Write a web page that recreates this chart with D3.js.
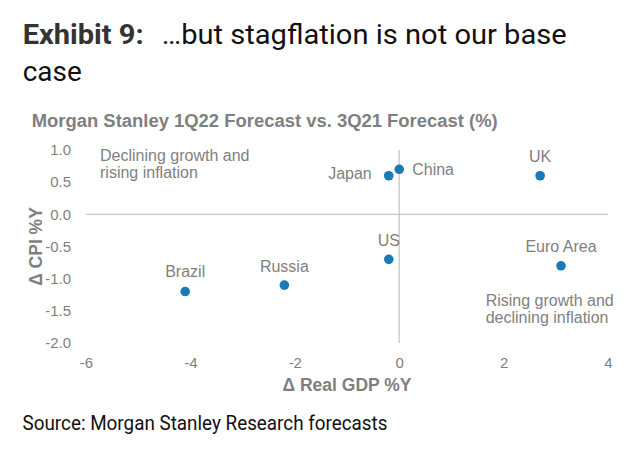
<!DOCTYPE html>
<html><head><meta charset="utf-8">
<script src="https://cdn.jsdelivr.net/npm/d3@7"></script>
<style>body{margin:0;background:#fff}svg{display:block}</style>
</head><body>
<script>
const countries = ["Japan","China","UK","US","Euro Area","Brazil","Russia"];
const gdpDelta = [-0.2, 0.0, 2.7, -0.2, 3.1, -4.1, -2.2];
const cpiDelta = [0.6, 0.7, 0.6, -0.7, -0.8, -1.2, -1.1];
const xTicks = [-6,-4,-2,0,2,4];
const yTicks = [1.0,0.5,0.0,-0.5,-1.0,-1.5,-2.0];

const W=640,H=454;
const svg=d3.select("body").append("svg").attr("width",W).attr("height",H);
const x=d3.scaleLinear().domain([-6,4]).range([86,608]);
const y=d3.scaleLinear().domain([-2,1]).range([343,150]);
const sans="Liberation Sans, Arial, sans-serif";
const grey="#7f7f7f";

// Title
svg.append("text").attr("x",22.7).attr("y",43.5).attr("font-family","Roboto").attr("font-size",28)
  .attr("font-weight","bold").attr("fill","#333").attr("textLength",121).attr("lengthAdjust","spacingAndGlyphs").text("Exhibit 9:");
svg.append("text").attr("x",161.7).attr("y",43.5).attr("font-family","Roboto").attr("font-size",28)
  .attr("fill","#111").attr("textLength",405).attr("lengthAdjust","spacingAndGlyphs").text("…but stagflation is not our base");
svg.append("text").attr("x",22.7).attr("y",81).attr("font-family","Roboto").attr("font-size",28)
  .attr("fill","#111").attr("textLength",59).attr("lengthAdjust","spacingAndGlyphs").text("case");

svg.append("text").attr("x",31.7).attr("y",127.3).attr("font-family",sans).attr("font-weight","bold")
  .attr("font-size",17.6).attr("fill",grey).attr("textLength",466).attr("lengthAdjust","spacingAndGlyphs")
  .text("Morgan Stanley 1Q22 Forecast vs. 3Q21 Forecast (%)");

// zero lines
svg.append("line").attr("x1",x(-6)).attr("x2",x(4)).attr("y1",y(0)).attr("y2",y(0)).attr("stroke","#c8c8c8").attr("stroke-width",1.3);
svg.append("line").attr("x1",x(0)).attr("x2",x(0)).attr("y1",y(1)).attr("y2",y(-2)).attr("stroke","#c8c8c8").attr("stroke-width",1.3);

const hy = f => (v => f(v).replace("\u2212","-"));
// y axis ticks
const yAxis=svg.append("g").attr("transform","translate(71,0)")
  .call(d3.axisLeft(y).tickValues(yTicks).tickFormat(hy(d3.format(".1f"))).tickSize(0).tickPadding(0));
yAxis.select(".domain").remove();
yAxis.selectAll("text").attr("font-family",sans).attr("font-size",15).attr("fill",grey);

const xAxis=svg.append("g").attr("transform","translate(0,357)")
  .call(d3.axisBottom(x).tickValues(xTicks).tickFormat(hy(d3.format("d"))).tickSize(0).tickPadding(0));
xAxis.select(".domain").remove();
xAxis.selectAll("text").attr("font-family",sans).attr("font-size",15).attr("fill",grey);

svg.append("text").attr("transform","translate(42,"+((y(1)+y(-2))/2)+") rotate(-90)").attr("text-anchor","middle")
  .attr("font-family",sans).attr("font-weight","bold").attr("font-size",17.5).attr("fill",grey).text("Δ CPI %Y");
svg.append("text").attr("x",(x(-6)+x(4))/2).attr("y",390.7).attr("text-anchor","middle")
  .attr("font-family",sans).attr("font-weight","bold").attr("font-size",17.5).attr("fill",grey).text("Δ Real GDP %Y");

// annotations
const ann=[["Declining growth and","rising inflation",100,160.7],["Rising growth and","declining inflation",485.7,305.7]];
ann.forEach(a=>{
  const t=svg.append("text").attr("font-family",sans).attr("font-size",16).attr("fill",grey);
  t.append("tspan").attr("x",a[2]).attr("y",a[3]).text(a[0]);
  t.append("tspan").attr("x",a[2]).attr("y",a[3]+17.5).text(a[1]);
});

// points
const data=countries.map((c,i)=>({c,gx:gdpDelta[i],cy:cpiDelta[i]}));
svg.selectAll("circle.pt").data(data).join("circle").attr("class","pt")
  .attr("cx",d=>x(d.gx)).attr("cy",d=>y(d.cy)).attr("r",4.8).attr("fill","#1a7ab5");

// label placements: anchor, dx, dy
const place={"Japan":["end",-17,3],"China":["start",13,6],"UK":["middle",0,-13.5],"US":["middle",0,-13],
  "Euro Area":["middle",0,-13.7],"Brazil":["middle",0,-14.5],"Russia":["middle",0,-13.6]};
svg.selectAll("text.lbl").data(data).join("text").attr("class","lbl")
  .attr("x",d=>x(d.gx)+place[d.c][1]).attr("y",d=>y(d.cy)+place[d.c][2])
  .attr("text-anchor",d=>place[d.c][0])
  .attr("font-family",sans).attr("font-size",16).attr("fill",grey).text(d=>d.c);

svg.append("text").attr("x",22.5).attr("y",430).attr("font-family","Roboto").attr("font-size",20.5).attr("fill","#111")
  .attr("textLength",365).attr("lengthAdjust","spacingAndGlyphs")
  .text("Source: Morgan Stanley Research forecasts");
</script>
</body></html>
